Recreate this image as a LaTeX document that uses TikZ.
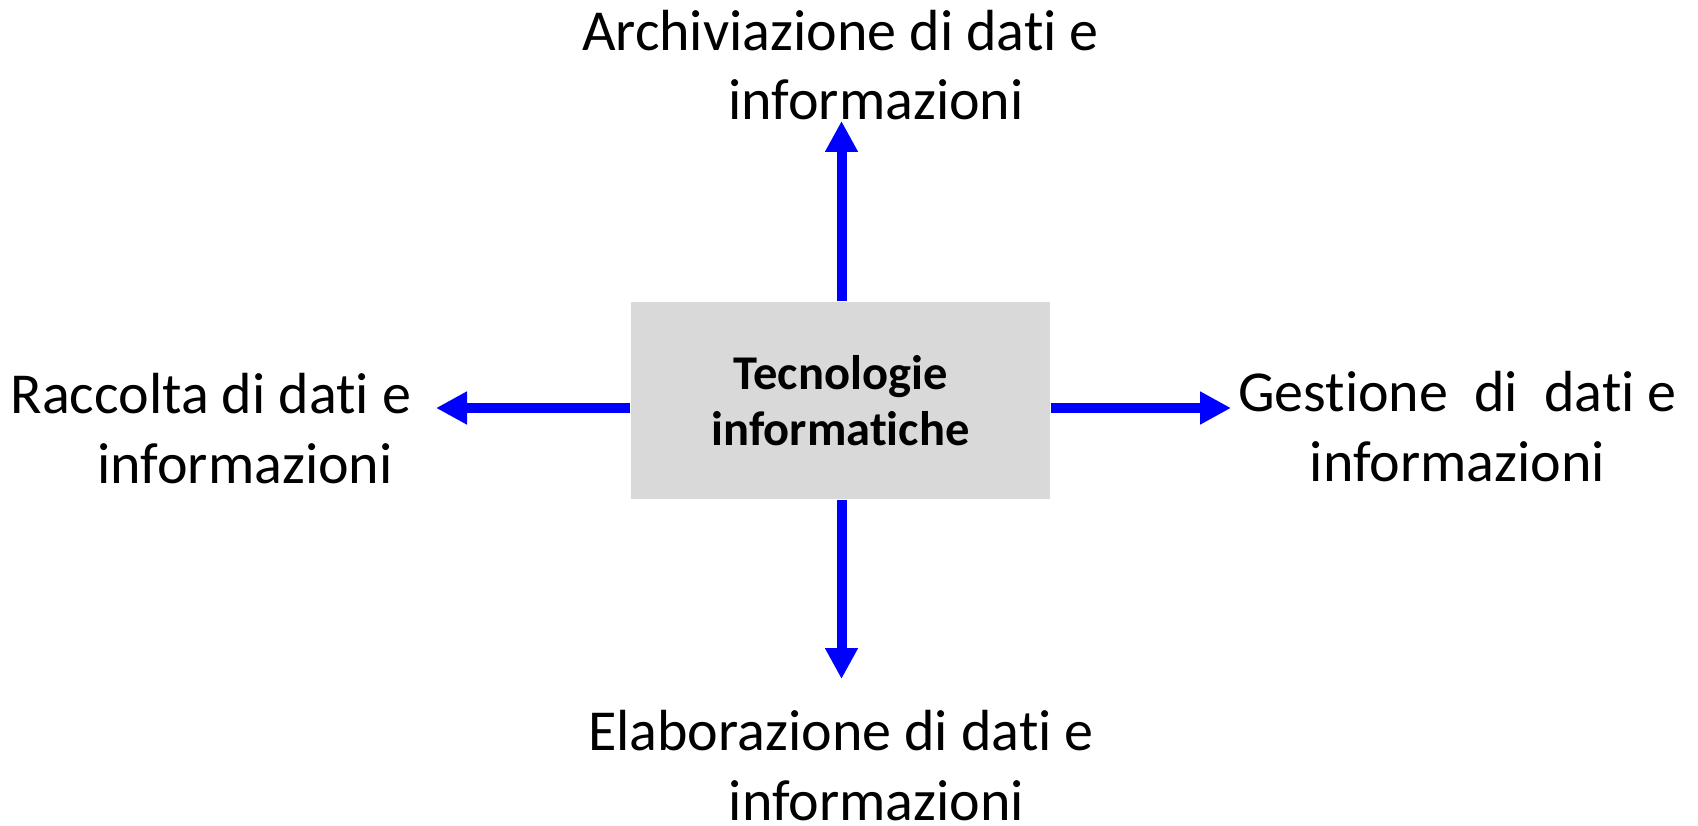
\documentclass[tikz,border=0pt]{standalone}
\usepackage{fontspec}
\setmainfont[Ligatures=NoCommon]{Carlito}
\usepackage{tikz}
\usetikzlibrary{arrows.meta}

\definecolor{boxgray}{RGB}{217,217,217}
\definecolor{arrowblue}{RGB}{0,0,255}

\begin{document}
\begin{tikzpicture}
\tikzset{core/.style = {shape=rectangle,fill=boxgray,inner sep=0pt,minimum width=4.19cm,minimum height=1.97cm,align=center,font=\fontsize{13.8}{15.9}\selectfont\bfseries}}
\tikzset{txt/.style = {inner sep=0pt,anchor=base,align=center,font=\fontsize{16.5}{19.9}\selectfont}}
\tikzset{flow/.style = {-{Triangle[length=3.1mm,width=3.1mm]},line width=1mm,draw=arrowblue}}
\useasboundingbox (0,0) rectangle (16.98,8.25);
\node[core] (tech) at (8.405,4.245) {Tecnologie\\informatiche};
\node[txt] (arch) at (8.405,7.05) {Archiviazione di dati e\\\hspace*{0.71cm}informazioni};
\node[txt] (racc) at (2.11,3.42) {Raccolta di dati e\\\hspace*{0.68cm}informazioni};
\node[txt] (gest) at (14.575,3.44) {Gestione\ \ di\ \ dati e\\informazioni};
\node[txt] (elab) at (8.41,0.05) {Elaborazione di dati e\\\hspace*{0.71cm}informazioni};
\coordinate (up) at (8.415,7.04);
\coordinate (dn) at (8.415,1.46);
\coordinate (lt) at (4.36,4.17);
\coordinate (rt) at (12.31,4.17);
\draw[flow] (tech.north -| up) to (up);
\draw[flow] (tech.south -| dn) to (dn);
\draw[flow] (tech.west |- lt) to (lt);
\draw[flow] (tech.east |- rt) to (rt);
\end{tikzpicture}
\end{document}
